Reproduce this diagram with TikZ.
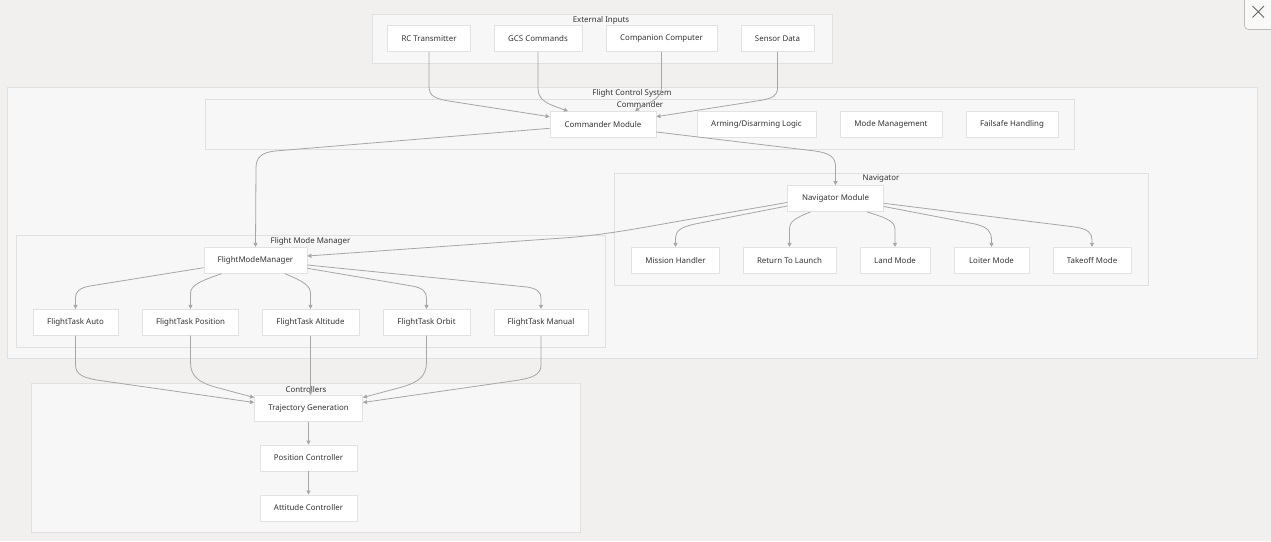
\documentclass[tikz,border=0pt]{standalone}
\usepackage{fontspec}
\setmainfont{Noto Sans}
\usetikzlibrary{arrows.meta}
\definecolor{bgc}{HTML}{F1F0EE}
\definecolor{clfill}{HTML}{F7F7F7}
\definecolor{cldraw}{HTML}{E0E0E0}
\definecolor{nddraw}{HTML}{E2E2E2}
\definecolor{txt}{HTML}{333333}
\definecolor{edgec}{HTML}{A6A6A6}
\definecolor{btnc}{HTML}{BDBDBD}
\tikzset{
  box/.style={draw=nddraw, line width=0.8pt, fill=white, minimum height=26pt, inner sep=0pt, text=txt},
  cluster/.style={draw=cldraw, line width=0.8pt, fill=clfill},
  clabel/.style={inner sep=0pt, text=txt},
  edge/.style={draw=edgec, line width=0.8pt, -{Triangle[length=4pt,width=4pt]}},
}
\begin{document}
\begin{tikzpicture}[x=1pt,y=-1pt,font=\fontsize{7.9}{9.5}\selectfont]
\useasboundingbox (0,0) rectangle (1271,541);
\fill[bgc] (0,0) rectangle (1271,541);
% close button
\draw[btnc, fill=white!60!bgc, line width=0.8pt, rounded corners=4pt] (1244.5,-4) rectangle (1276,29.5);
\draw[black!60, line width=0.8pt] (1252.5,6) -- (1264,17.5) (1264,6) -- (1252.5,17.5);
% clusters
\draw[cluster] (372,14) rectangle (832,63);
\node[clabel] (extl) at (601,20) {External Inputs};
\draw[cluster] (7,87.5) rectangle (1257.5,358);
\node[clabel] (fcsl) at (632,93) {Flight Control System};
\draw[cluster] (205.5,99.5) rectangle (1074.5,149);
\node[clabel] (cmdl) at (640,105) {Commander};
\draw[cluster] (614,173.3) rectangle (1148,285.5);
\node[clabel] (navl) at (881,179) {Navigator};
\draw[cluster] (16,235) rectangle (605,347.3);
\node[clabel] (fmml) at (310.5,241) {Flight Mode Manager};
\draw[cluster] (31,383) rectangle (580,532);
\node[clabel] (ctrll) at (306,389.5) {Controllers};
% nodes
\node[box, minimum width=83pt] (rc) at (429,38.7) {RC Transmitter};
\node[box, minimum width=88pt] (gcs) at (538,38.7) {GCS Commands};
\node[box, minimum width=111pt] (cc) at (661.5,38.7) {Companion Computer};
\node[box, minimum width=73pt] (sd) at (777.5,38.7) {Sensor Data};
\node[box, minimum width=106pt] (cm) at (603,124.5) {Commander Module};
\node[box, minimum width=119pt] (arm) at (756.5,124.2) {Arming/Disarming Logic};
\node[box, minimum width=102pt] (mm) at (891,124.2) {Mode Management};
\node[box, minimum width=92pt] (fh) at (1012,124.2) {Failsafe Handling};
\node[box, minimum width=96pt] (nm) at (835.5,198.5) {Navigator Module};
\node[box, minimum width=88pt] (mh) at (675.5,260.3) {Mission Handler};
\node[box, minimum width=93pt] (rtl) at (789.5,260.3) {Return To Launch};
\node[box, minimum width=70pt] (land) at (895,260.3) {Land Mode};
\node[box, minimum width=75pt] (loiter) at (991.5,260.3) {Loiter Mode};
\node[box, minimum width=78pt] (takeoff) at (1092,260.3) {Takeoff Mode};
\node[box, minimum width=103pt] (fmm) at (255.5,260.3) {FlightModeManager};
\node[box, minimum width=85pt] (fta) at (75.5,322.3) {FlightTask Auto};
\node[box, minimum width=96pt] (ftp) at (190.5,322.3) {FlightTask Position};
\node[box, minimum width=97pt] (ftal) at (310.5,322.3) {FlightTask Altitude};
\node[box, minimum width=87pt] (fto) at (426.5,322.3) {FlightTask Orbit};
\node[box, minimum width=94pt] (ftm) at (541,322.3) {FlightTask Manual};
\node[box, minimum width=108pt] (tg) at (308.5,408.5) {Trajectory Generation};
\node[box, minimum width=97pt] (pc) at (308.5,458) {Position Controller};
\node[box, minimum width=97pt] (ac) at (308.5,508) {Attitude Controller};
% edges: external inputs -> commander
\draw[edge] (rc.south) -- (429,86) .. controls (429,97) and (436,99) .. (452,101.5) -- ([yshift=7.8pt]cm.west);
\draw[edge] (gcs.south) -- (538,88) .. controls (538,101) and (548,104) .. ([xshift=-35pt]cm.north);
\draw[edge] (cc.south) -- (661.5,88) .. controls (661.5,100) and (645,104) .. ([xshift=32pt]cm.north);
\draw[edge] (sd.south) -- (777.5,88) .. controls (777.5,96) and (772,98.5) .. (760,100.5) -- ([yshift=7.8pt]cm.east);
% commander -> fmm, navigator
\draw[edge] ([yshift=-3.8pt]cm.west) -- (275,151) .. controls (262,152.5) and (256,157) .. (256,168) -- (fmm.north);
\draw[edge] ([yshift=-7.5pt]cm.east) -- (815,151) .. controls (829,153) and (835.5,157) .. (835.5,166) -- (nm.north);
% navigator -> fmm
\draw[edge] ([yshift=-4pt]nm.west) -- (680,221) .. controls (640,228) and (610,234) .. (570,237.5) -- ([yshift=4.3pt]fmm.east);
% navigator children
\draw[edge] ([yshift=-7.5pt]nm.west) -- (695,224) .. controls (681,227) and (675.5,231) .. (675.5,238) -- (mh.north);
\draw[edge] ([xshift=-25pt]nm.south) .. controls (793,219) and (789.5,222) .. (789.5,230) -- (rtl.north);
\draw[edge] ([xshift=31.5pt]nm.south) .. controls (890,219) and (895,222) .. (895,230) -- (land.north);
\draw[edge] ([yshift=-8pt]nm.east) -- (975,224) .. controls (988,227) and (991.5,232) .. (991.5,240) -- (loiter.north);
\draw[edge] ([yshift=-4.8pt]nm.east) -- (1075,227) .. controls (1088,229) and (1092,233) .. (1092,240) -- (takeoff.north);
% fmm children
\draw[edge] ([yshift=-7.4pt]fmm.west) -- (90,286) .. controls (79,288) and (75.5,292) .. (75.5,298) -- (fta.north);
\draw[edge] ([xshift=-33.8pt]fmm.south) .. controls (197,282) and (190.5,286) .. (190.5,294) -- (ftp.north);
\draw[edge] ([xshift=29.5pt]fmm.south) .. controls (305,282) and (310.5,286) .. (310.5,294) -- (ftal.north);
\draw[edge] ([yshift=-8pt]fmm.east) -- (412,286) .. controls (423,288) and (426.5,292) .. (426.5,298) -- (fto.north);
\draw[edge] ([yshift=-4.7pt]fmm.east) -- (527,287) .. controls (537,288.5) and (541,292) .. (541,298) -- (ftm.north);
% flight tasks -> trajectory generation
\draw[edge] (fta.south) -- (75.5,365) .. controls (75.5,375) and (84,378) .. (100,380.5) -- ([yshift=6pt]tg.west);
\draw[edge] (ftp.south) -- (190.5,362) .. controls (190.5,376) and (198,382) .. (215,387) -- ([yshift=11pt]tg.west);
\draw[edge] (ftal.south) -- (ftal.south |- tg.north);
\draw[edge] (fto.south) -- (426.5,362) .. controls (426.5,376) and (419,382) .. (402,387) -- ([yshift=11pt]tg.east);
\draw[edge] (ftm.south) -- (541,365) .. controls (541,375) and (532,378) .. (516,380.5) -- ([yshift=6pt]tg.east);
% controllers chain
\draw[edge] (tg.south) -- (pc.north);
\draw[edge] (pc.south) -- (ac.north);
\end{tikzpicture}
\end{document}
